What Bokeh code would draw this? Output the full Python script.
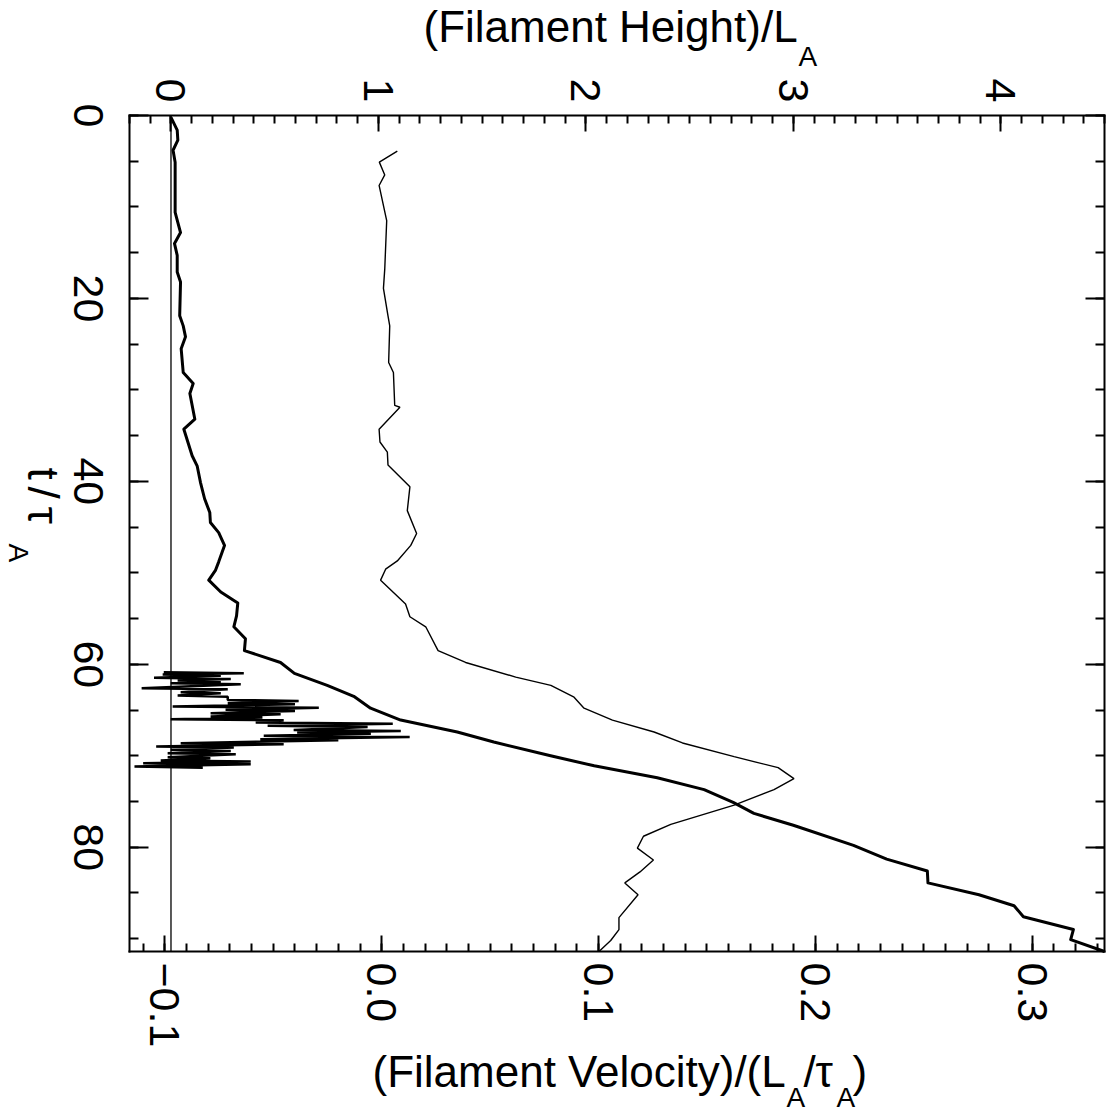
import math
from bokeh.plotting import figure
from bokeh.models import (Range1d, LinearAxis, FixedTicker, Label,
                          CustomJSTickFormatter)
from bokeh.embed import file_html
from bokeh.resources import INLINE

# ---------------- data ----------------
# filament height (top axis) vs time
t_height = [0.2, 1.6, 2.7, 3.8, 5.1, 10.6, 12.8, 14.0, 15.3, 17.1, 18.2, 21.9, 23.0,
            24.2, 25.5, 28.1, 29.3, 30.4, 33.2, 34.3, 37.2, 38.3, 40.1, 41.9, 43.4,
            44.5, 45.6, 47.0, 48.8, 49.7, 50.8, 52.1, 53.3, 54.7, 55.9, 57.2, 58.5,
            59.8, 61.0, 62.3, 63.5, 64.8, 66.1, 67.4, 68.5, 70.0, 71.1, 72.4, 73.7,
            75.1, 76.3, 77.6, 79.8, 81.3, 82.6, 83.9, 85.2, 86.4, 87.6, 89.0, 90.1, 91.4]
height = [0.0, 0.03, 0.033, 0.01, 0.02, 0.02, 0.046, 0.017, 0.03, 0.03, 0.046, 0.042, 0.059,
          0.07, 0.049, 0.059, 0.107, 0.091, 0.115, 0.062, 0.102, 0.126, 0.142, 0.162, 0.187,
          0.19, 0.23, 0.258, 0.23, 0.215, 0.182, 0.24, 0.322, 0.316, 0.303, 0.359, 0.354,
          0.528, 0.595, 0.753, 0.881, 0.962, 1.107, 1.38, 1.556, 1.83, 2.04, 2.344, 2.57,
          2.71, 2.81, 3.0, 3.29, 3.45, 3.646, 3.649, 3.895, 4.064, 4.109, 4.35, 4.337, 4.5]

# filament velocity (bottom axis) vs time
t_vel = [3.9, 5.1, 6.5, 7.65, 11.5, 16.8, 18.9, 21.9, 23.0, 27.0, 28.1, 31.7, 31.9,
         34.3, 35.7, 36.8, 38.2, 40.6, 43.2, 45.7, 47.0, 48.7, 49.6, 50.8, 53.4, 54.8,
         55.9, 58.5, 59.8, 61.4, 62.3, 63.6, 64.8, 66.1, 67.4, 68.6, 70.1, 71.3, 72.5,
         73.7, 75.4, 77.5, 78.8, 80.1, 81.4, 82.7, 83.9, 85.2, 87.7, 89.0, 90.2, 91.4]
vel = [0.0072, -0.0011, 0.0014, -0.0012, 0.0023, 0.0014, 0.0008, 0.0029, 0.0037, 0.0032,
       0.0054, 0.0060, 0.0084, -0.0012, -0.0008, 0.0026, 0.0029, 0.0130, 0.0118, 0.0161,
       0.0134, 0.0072, 0.0018, -0.0005, 0.0110, 0.0130, 0.0203, 0.0260, 0.0387, 0.0618,
       0.0780, 0.0887, 0.0933, 0.1064, 0.1256, 0.1387, 0.1625, 0.1828, 0.1901, 0.1809,
       0.1625, 0.1333, 0.1207, 0.1179, 0.1253, 0.1191, 0.1121, 0.1182, 0.1094, 0.1094,
       0.1056, 0.1002]

# noisy velocity estimate (bottom axis) during the eruption
t_noise = [60.87, 60.99, 61.12, 61.24, 61.48, 61.60, 61.77, 61.89, 62.07, 62.19,
           62.62, 62.74, 63.05, 63.17, 63.42, 63.54, 63.89, 64.01, 64.26, 64.38,
           64.62, 64.74, 64.98, 65.10, 65.35, 65.47, 65.71, 65.83, 66.01, 66.13,
           66.37, 66.49, 66.73, 66.85, 67.17, 67.29, 67.46, 67.58, 67.82, 67.94,
           68.19, 68.31, 68.63, 68.75, 68.99, 69.11, 69.35, 69.47, 69.72, 69.84,
           70.16, 70.28, 70.52, 70.64, 70.82, 70.94, 71.18, 71.30]
v_noise = [-0.1005, -0.0636, -0.1010, -0.0742, -0.1050, -0.0696, -0.0941, -0.0742, -0.0973, -0.0650,
           -0.1107, -0.0710, -0.0927, -0.0742, -0.0941, -0.0710, -0.0710, -0.0383, -0.0710, -0.0400,
           -0.0964, -0.0290, -0.0720, -0.0400, -0.0789, -0.0466, -0.0789, -0.0550, -0.0973, -0.0452,
           -0.0581, 0.0051, -0.0526, -0.0065, -0.0406, 0.0088, -0.0390, -0.0050, -0.0544, 0.0129,
           -0.0560, -0.0200, -0.0927, -0.0452, -0.1040, -0.0682, -0.0973, -0.0696, -0.0987, -0.0673,
           -0.0987, -0.0790, -0.1019, -0.0604, -0.1100, -0.0604, -0.1140, -0.0825]

# axes / ticks
T_LIM = (0.0, 91.4)          # time axis (left)
V_LIM = (-0.1163, 0.3333)    # velocity axis (bottom)
H_LIM = (-0.2, 4.5)          # height axis (top)
t_ticks = [0, 20, 40, 60, 80]
t_tick_labels = ["0", "20", "40", "60", "80"]
h_ticks = [0, 1, 2, 3, 4]
v_ticks = [-0.1, 0.0, 0.1, 0.2, 0.3]
v_tick_labels = {-0.1: "\u22120.1", 0.0: "0.0", 0.1: "0.1", 0.2: "0.2", 0.3: "0.3"}
t_minor = [5 * i for i in range(0, 19)]
h_minor = [round(-0.2 + 0.1 * i, 2) for i in range(0, 48)]
v_minor = [round(-0.11 + 0.01 * i, 2) for i in range(0, 45)]

FONT = "Liberation Sans"
TICK_PX = 43
TICK_FS = f"{TICK_PX}px"

# ---------------- layout: the plot box sits inside a full-canvas frame ----------------
W = Hc = 1114
BL, BR, BT, BB = 129, 1104, 115, 951      # plot box edges in page pixels


def extend(lo, hi, a, b, total):
    per = (hi - lo) / (b - a)
    return lo - a * per, hi + (total - b) * per


vx0, vx1 = extend(V_LIM[0], V_LIM[1], BL, BR, W)
hx0, hx1 = extend(H_LIM[0], H_LIM[1], BL, BR, W)
ty0, ty1 = extend(T_LIM[0], T_LIM[1], BT, BB, Hc)   # top -> bottom

p = figure(width=W, height=Hc,
           x_range=Range1d(vx0, vx1), y_range=Range1d(ty1, ty0),
           x_axis_location=None, y_axis_location=None,
           toolbar_location=None, output_backend="svg",
           min_border=0, min_border_left=0, min_border_right=0,
           min_border_top=0, min_border_bottom=0)
p.extra_x_ranges = {"h": Range1d(hx0, hx1)}
p.grid.visible = False
p.outline_line_color = None
p.background_fill_color = "white"
p.border_fill_color = "white"


def style(ax, maj, mnr):
    ax.axis_line_width = 2
    ax.axis_line_color = "black"
    ax.axis_line_cap = "square"
    ax.major_tick_in = maj
    ax.major_tick_out = 0
    ax.minor_tick_in = mnr
    ax.minor_tick_out = 0
    ax.major_tick_line_width = 2
    ax.minor_tick_line_width = 2
    ax.major_tick_line_color = "black"
    ax.minor_tick_line_color = "black"
    ax.major_label_text_font = FONT
    ax.major_label_text_font_size = TICK_FS
    ax.major_label_text_color = "black"
    ax.major_label_orientation = -math.pi / 2


bottom = LinearAxis(ticker=FixedTicker(ticks=v_ticks, minor_ticks=v_minor),
                    fixed_location=T_LIM[1], bounds=V_LIM)
bottom.major_label_overrides = v_tick_labels
style(bottom, 16, 8)
bottom.major_label_standoff = 11
p.add_layout(bottom, "below")

top = LinearAxis(x_range_name="h", ticker=FixedTicker(ticks=h_ticks, minor_ticks=h_minor),
                 fixed_location=T_LIM[0], bounds=H_LIM)
style(top, 16, 8)
top.major_label_standoff = 13
p.add_layout(top, "above")

blank = CustomJSTickFormatter(code="return ''")
left = LinearAxis(ticker=FixedTicker(ticks=t_ticks, minor_ticks=t_minor),
                  fixed_location=V_LIM[0], bounds=T_LIM)
style(left, 19, 9)
left.formatter = blank
left.major_label_standoff = 0
left.major_label_text_font_size = "1px"
p.add_layout(left, "left")

right = LinearAxis(ticker=FixedTicker(ticks=t_ticks, minor_ticks=t_minor),
                   fixed_location=V_LIM[1], bounds=T_LIM)
style(right, 19, 9)
right.formatter = blank
right.major_label_standoff = 0
right.major_label_text_font_size = "1px"
p.add_layout(right, "right")

# left tick labels, rotated and centred on their ticks (baseline at page x = 73)
for tv, tl in zip(t_ticks, t_tick_labels):
    p.add_layout(Label(x=73 + 0.3465 * TICK_PX, y=tv, x_units="screen", y_units="data",
                       text=tl, text_font=FONT, text_font_size=TICK_FS,
                       text_color="black", text_align="center",
                       text_baseline="middle", angle=-math.pi / 2))

# reference line at zero height, spanning the time axis
p.line([0, 0], list(T_LIM), x_range_name="h", line_color="black", line_width=1.3)

p.line(v_noise, t_noise, line_color="black", line_width=2.5)
p.line(vel, t_vel, line_color="black", line_width=1.4)
p.line(height, t_height, x_range_name="h", line_color="black", line_width=3,
       line_join="round")

# ---------------- axis titles (pieces for subscripts) ----------------


def lab(text, px, py, size_px, angle=0.0):
    """px, py: start of the text baseline in page pixels."""
    off = 0.3465 * size_px
    if angle == 0.0:
        x, y = px, Hc - (py - off)
    else:                       # rotated clockwise: baseline is a vertical line
        x, y = px + off, Hc - py
    p.add_layout(Label(x=x, y=y, x_units="screen", y_units="screen",
                       text=text, text_font=FONT, text_font_size=f"{size_px}px",
                       text_color="black", text_align="left",
                       text_baseline="middle", angle=angle))


MAIN = 44
SUB = 28
# top title
lab("(Filament Height)/L", 423, 41, MAIN)
lab("A", 798, 66, SUB)
# bottom title
lab("(Filament Velocity)/(L", 372, 1086, MAIN)
lab("A", 786, 1107, SUB)
lab("/", 803, 1086, MAIN)
lab("\u03c4", 815, 1086, MAIN)
lab("A", 836, 1107, SUB)
lab(")", 852, 1086, MAIN)
# left title (rotated)
lab("t", 28, 467, MAIN, -math.pi / 2)
lab("/", 28, 486, MAIN, -math.pi / 2)
lab("\u03c4", 28, 506, MAIN, -math.pi / 2)
lab("A", 8, 543, SUB, -math.pi / 2)

open("out.html", "w").write(file_html(p, INLINE))
